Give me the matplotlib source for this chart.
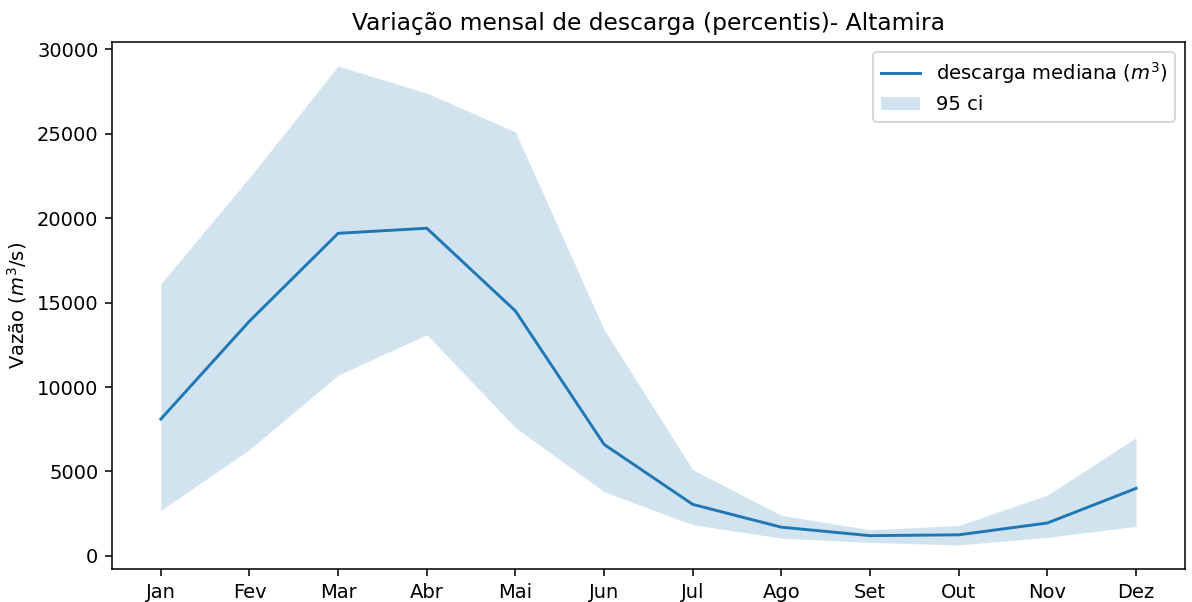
import matplotlib
matplotlib.use('Agg')
import matplotlib.pyplot as plt

# monthly discharge percentiles, Altamira
meses = ['Jan', 'Fev', 'Mar', 'Abr', 'Mai', 'Jun', 'Jul', 'Ago', 'Set', 'Out', 'Nov', 'Dez']
mediana = [8100, 13900, 19100, 19400, 14500, 6600, 3050, 1700, 1200, 1250, 1950, 4000]
superior = [16100, 22400, 29000, 27400, 25100, 13400, 5100, 2400, 1550, 1800, 3600, 7000]
inferior = [2700, 6300, 10700, 13100, 7600, 3800, 1850, 1050, 800, 650, 1100, 1750]

fig, ax = plt.subplots(figsize=(1192 / 140, 602 / 140), dpi=140)
x = range(len(meses))
ax.plot(x, mediana, color='tab:blue', label='descarga mediana ($m^3$)')
ax.fill_between(x, inferior, superior, color='tab:blue', alpha=0.2, linewidth=0, label='95 ci')
ax.set_xticks(list(x))
ax.set_xticklabels(meses)
ax.set_ylabel('Vazão ($m^3$/s)')
ax.set_title('Variação mensal de descarga (percentis)- Altamira')
ax.legend(loc='upper right')
fig.subplots_adjust(left=0.094, right=0.994, top=0.930, bottom=0.055)
fig.savefig('out.png')
